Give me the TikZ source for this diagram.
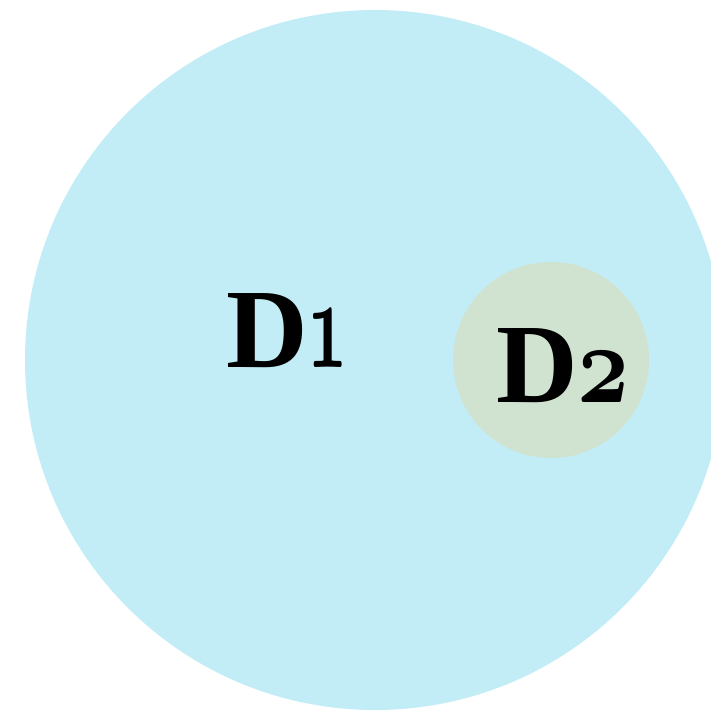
\documentclass[tikz,border=0pt]{standalone}
\usepackage{fix-cm}
\usepackage{graphicx}
\usepackage{fontspec}
\setmainfont{Liberation Serif}
\definecolor{bigc}{RGB}{195,237,246}
\definecolor{smallc}{RGB}{208,226,208}
\newcommand{\osdig}[3]{\scalebox{#1}[#2]{\fontencoding{OML}\fontfamily{cmm}\fontseries{b}\fontshape{it}\fontsize{113}{120}\selectfont #3}}
\tikzset{lbl/.style={anchor=base west,inner sep=0pt,font=\fontsize{113}{120}\selectfont\bfseries}}
\begin{document}
\begin{tikzpicture}[x=1pt,y=-1pt]
\useasboundingbox (0,0) rectangle (711,711);
\clip (0,0) rectangle (711,711);
\fill[bigc] (375,360) circle[radius=350];
\fill[smallc] (551,360) circle[radius=98];
\node[lbl] (d1) at (226,367) {D\osdig{0.62}{1.15}{1}};
\node[lbl] (d2) at (496,402) {D\osdig{0.8}{1}{2}};
\end{tikzpicture}
\end{document}
